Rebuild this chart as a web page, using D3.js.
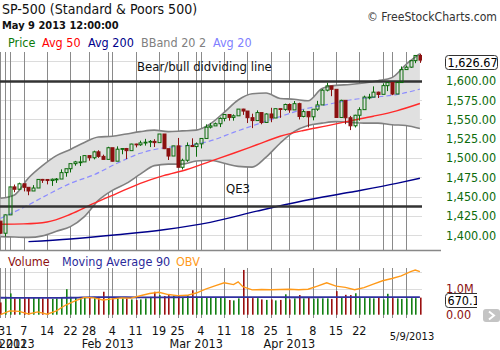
<!DOCTYPE html>
<html><head><meta charset="utf-8">
<script src="https://cdn.jsdelivr.net/npm/d3@7"></script>
<style>
body{margin:0;background:#fff}
svg{display:block}
text{font-family:"DejaVu Sans Condensed","DejaVu Sans",sans-serif}
</style>
</head><body><svg id="c" width="500" height="350"></svg>
<script>
// ---------------- DATA ----------------
const dates = ["2012-12-28","2012-12-31",
"2013-01-02","2013-01-03","2013-01-04","2013-01-07","2013-01-08","2013-01-09","2013-01-10","2013-01-11","2013-01-14","2013-01-15","2013-01-16","2013-01-17","2013-01-18","2013-01-22","2013-01-23","2013-01-24","2013-01-25","2013-01-28","2013-01-29","2013-01-30","2013-01-31",
"2013-02-01","2013-02-04","2013-02-05","2013-02-06","2013-02-07","2013-02-08","2013-02-11","2013-02-12","2013-02-13","2013-02-14","2013-02-15","2013-02-19","2013-02-20","2013-02-21","2013-02-22","2013-02-25","2013-02-26","2013-02-27","2013-02-28",
"2013-03-01","2013-03-04","2013-03-05","2013-03-06","2013-03-07","2013-03-08","2013-03-11","2013-03-12","2013-03-13","2013-03-14","2013-03-15","2013-03-18","2013-03-19","2013-03-20","2013-03-21","2013-03-22","2013-03-25","2013-03-26","2013-03-27","2013-03-28",
"2013-04-01","2013-04-02","2013-04-03","2013-04-04","2013-04-05","2013-04-08","2013-04-09","2013-04-10","2013-04-11","2013-04-12","2013-04-15","2013-04-16","2013-04-17","2013-04-18","2013-04-19","2013-04-22","2013-04-23","2013-04-24","2013-04-25","2013-04-26","2013-04-29","2013-04-30",
"2013-05-01","2013-05-02","2013-05-03","2013-05-06","2013-05-07","2013-05-08","2013-05-09"];

const opens = [1418.10,1402.43,
1426.19,1462.42,1459.37,1466.47,1461.89,1457.15,1461.02,1472.12,1472.05,1470.67,1472.33,1472.63,1480.95,1485.98,1492.56,1494.81,1494.82,1502.96,1500.18,1507.84,1501.96,
1498.11,1513.17,1495.71,1511.29,1512.12,1509.39,1517.93,1517.01,1519.43,1520.33,1521.38,1519.79,1530.94,1511.95,1502.42,1515.60,1487.85,1496.94,1515.99,
1514.68,1518.20,1525.20,1539.79,1541.46,1544.26,1551.15,1556.22,1552.48,1554.52,1563.21,1560.70,1552.10,1548.34,1558.71,1545.90,1556.89,1551.69,1563.75,1562.86,
1569.18,1562.17,1570.25,1553.69,1559.98,1553.26,1563.11,1568.61,1587.73,1593.30,1588.84,1552.36,1574.57,1552.03,1541.61,1555.25,1562.50,1578.78,1578.78,1585.16,1582.34,1593.58,
1597.55,1582.77,1597.60,1614.40,1617.55,1625.95,1632.69];

const highs = [1418.10,1426.74,
1462.43,1465.47,1467.94,1466.47,1461.89,1464.73,1472.30,1472.75,1472.05,1473.31,1473.96,1485.16,1485.98,1492.56,1496.13,1502.27,1503.26,1503.23,1509.35,1509.94,1504.19,
1514.41,1513.17,1514.96,1512.53,1512.90,1518.31,1518.31,1522.29,1524.69,1523.14,1524.24,1530.94,1530.94,1511.95,1515.64,1525.84,1498.99,1520.08,1525.34,
1519.99,1525.27,1543.47,1545.25,1545.78,1552.48,1556.27,1556.77,1556.39,1563.32,1563.62,1560.70,1557.25,1561.56,1558.71,1557.74,1564.91,1563.95,1564.07,1570.28,
1570.57,1573.66,1571.47,1562.60,1559.98,1563.07,1573.89,1589.07,1597.35,1593.30,1588.85,1575.35,1574.57,1554.38,1555.89,1565.55,1580.63,1583.00,1592.64,1585.78,1596.65,1597.57,
1597.55,1598.60,1618.46,1619.77,1626.03,1632.78,1635.01];

const lows = [1401.58,1398.11,
1426.19,1455.53,1458.99,1456.62,1451.64,1457.15,1461.02,1467.58,1465.69,1463.76,1467.60,1472.63,1475.63,1481.16,1489.90,1489.46,1494.82,1496.33,1498.09,1500.11,1497.66,
1498.11,1495.02,1495.71,1504.71,1498.49,1509.39,1513.61,1515.61,1515.93,1514.02,1514.14,1519.79,1511.41,1497.29,1502.42,1487.85,1485.01,1494.88,1514.46,
1501.48,1512.29,1525.20,1538.11,1541.46,1539.94,1547.36,1548.24,1548.25,1554.52,1555.74,1545.13,1538.57,1548.34,1543.55,1545.80,1546.22,1551.69,1551.90,1561.08,
1558.47,1562.17,1549.80,1552.52,1539.50,1548.63,1560.92,1568.61,1586.17,1579.97,1552.28,1552.36,1543.69,1536.03,1539.40,1548.19,1562.50,1575.80,1578.78,1577.56,1582.34,1586.50,
1581.28,1582.77,1597.60,1614.21,1616.64,1622.70,1623.09];

const closes = [1402.43,1426.19,
1462.42,1459.37,1466.47,1461.89,1457.15,1461.02,1472.12,1472.05,1470.68,1472.34,1472.63,1480.94,1485.98,1492.56,1494.81,1494.82,1502.96,1500.18,1507.84,1501.96,1498.11,
1513.17,1495.71,1511.29,1512.12,1509.39,1517.93,1517.01,1519.43,1520.33,1521.38,1519.79,1530.94,1511.95,1502.42,1515.60,1487.85,1496.94,1515.99,1514.68,
1518.20,1525.20,1539.79,1541.46,1544.26,1551.18,1556.22,1552.48,1554.52,1563.23,1560.70,1552.10,1548.34,1558.71,1545.80,1556.89,1551.69,1563.77,1562.85,1569.19,
1562.17,1570.25,1553.69,1559.98,1553.28,1563.07,1568.61,1587.73,1593.37,1588.85,1552.36,1574.57,1552.01,1541.61,1555.25,1562.50,1578.78,1578.79,1585.16,1582.24,1593.61,1597.57,
1582.70,1597.59,1614.42,1617.50,1625.96,1632.69,1626.67];

// volume in thousands
const volumes = [480,700,
835,640,640,640,670,680,680,640,640,620,640,680,1000,700,680,680,680,680,700,700,900,
700,660,650,640,640,600,575,600,640,700,900,770,730,770,750,750,700,770,960,
700,700,660,660,660,660,650,575,560,640,1755,650,650,650,600,580,600,560,580,800,
600,640,770,640,660,620,640,640,640,620,925,660,780,770,840,650,650,650,640,660,600,820,
650,640,620,640,650,650,670];

// Bollinger band (20,2) read every 3rd trading day
const bandDays  = [0,3,6,9,12,15,18,21,24,27,30,33,36,39,42,45,48,51,54,57,60,63,66,69,72,75,78,81,84,87,90];
const bandUpper = [1447.7,1452,1474,1490,1503,1511,1520,1527,1528,1531,1534,1536,1534,1535,1536,1544,1559,1575,1583,1584,1577,1576,1574,1590,1594,1595,1597,1600,1604,1621,1635];
const bandLower = [1398,1397.5,1397,1399,1405,1411,1424,1445,1458,1467,1479,1490,1492,1492,1496,1497,1493,1489,1488,1501,1519,1534,1542,1545,1547,1546,1545,1545,1543,1542,1538];

// moving averages read every 5th trading day
const maDays = [0,5,10,15,20,25,30,35,40,45,50,55,60,65,70,75,80,85,90];
const avg20  = [1421.7,1436,1452,1467,1478,1493,1506,1513,1516,1522,1533,1543.5,1553.5,1563,1569,1575,1578.5,1582,1589];
const avg50  = [1414,1414.5,1417,1427,1441,1454,1467,1477,1485,1495.5,1506,1517,1528,1535.5,1541.5,1548,1554,1561,1570.5];
const avg200Days = [6,15,25,35,45,55,65,75,85,90];
const avg200 = [1391.5,1395,1400.5,1407,1416.5,1431,1444.5,1455.5,1467,1473.6];

const volMA90 = [665,660,662,664,690,688,680,682,686,690,690,688,686,684,686,690,688,690,688];
const obvDays = [0,2,4,6,8,10,12,14,16,18,20,22,24,26,28,30,32,34,36,38,40,42,44,46,48,50,51,52,54,56,58,60,62,64,66,68,70,72,74,76,78,80,82,84,86,88,89,90];
const obv     = [0,150,130,30,110,20,150,380,540,680,660,576,620,660,650,745,830,880,790,750,760,850,1000,1130,1250,1180,1290,1098,975,990,980,990,1000,980,1000,1120,1250,1120,1070,980,1060,1200,1330,1420,1520,1690,1750,1686];

const priceGridTicks = [1400,1425,1450,1475,1500,1525,1550,1575,1600,1625];
const priceLabelTicks = [1400,1425,1450,1475,1500,1525,1550,1575,1600];
const weekTickDates = ["2012-12-31","2013-01-07","2013-01-14","2013-01-22","2013-01-28","2013-02-04","2013-02-11","2013-02-19","2013-02-25","2013-03-04","2013-03-11","2013-03-18","2013-03-25","2013-04-01","2013-04-08","2013-04-15","2013-04-22","2013-04-29","2013-05-06"];
const weekTickLabels = ["31","7","14","22","28","4","11","19","25","4","11","18","25","1","8","15","22","",""];
const monthDates = ["2012-12-28","2013-01-02","2013-02-01","2013-03-01","2013-04-01","2013-05-01"];
const monthLabels = ["Dec 2012","Jan 2013","Feb 2013","Mar 2013","Apr 2013",""];

const bearBullLevel = 1600, qe3Level = 1438;
const lastPrice = "1,626.67", lastVolume = "670.1";

// ---------------- CHART ----------------
const svg = d3.select("#c");
svg.append("rect").attr("width",500).attr("height",350).attr("fill","#fff");

const x = d3.scalePoint().domain(dates).range([0.5, 419.9]);
const y = d3.scaleLinear().domain([1400,1600]).range([235.1, 80.7]);
const vy = d3.scaleLinear().domain([0,1000]).range([314.7, 289.2]);
const plotRight = 422;

const defs = svg.append("defs");
defs.append("clipPath").attr("id","cp").append("rect").attr("x",0).attr("y",52).attr("width",plotRight).attr("height",198);
defs.append("clipPath").attr("id","cv").append("rect").attr("x",0).attr("y",266).attr("width",plotRight).attr("height",52);

const gP = svg.append("g").attr("clip-path","url(#cp)");
const gV = svg.append("g").attr("clip-path","url(#cv)");

// horizontal grid (price)
gP.selectAll("line.hg").data(priceGridTicks).join("line")
  .attr("x1",0).attr("x2",plotRight)
  .attr("y1",d=>Math.round(y(d))+0.5).attr("y2",d=>Math.round(y(d))+0.5)
  .attr("stroke","#dcdcdc").attr("stroke-width",1);

// vertical grid lines
const gridDates = Array.from(new Set(weekTickDates.concat(monthDates)));
const xl = d=>Math.round(x(d))+0.5;
gP.selectAll("line.vg").data(gridDates).join("line")
  .attr("x1",xl).attr("x2",xl).attr("y1",52).attr("y2",250)
  .attr("stroke","#8a8a8a").attr("stroke-width",1);

// Bollinger band
const band = bandDays.map((d,i)=>({d:dates[d],u:bandUpper[i],l:bandLower[i]}));
gP.append("path").datum(band)
  .attr("d",d3.area().x(d=>x(d.d)).y0(d=>y(d.l)).y1(d=>y(d.u)).curve(d3.curveMonotoneX))
  .attr("fill","#e0e0e0");
["u","l"].forEach(k=>{
  gP.append("path").datum(band)
    .attr("d",d3.line().x(d=>x(d.d)).y(d=>y(d[k])).curve(d3.curveMonotoneX))
    .attr("fill","none").attr("stroke","#808080").attr("stroke-width",1.6);
});

function maLine(days, vals, color, width, dash){
  const pts = days.map((d,i)=>({d:dates[d],v:vals[i]}));
  gP.append("path").datum(pts)
    .attr("d",d3.line().x(p=>x(p.d)).y(p=>y(p.v)).curve(d3.curveMonotoneX))
    .attr("fill","none").attr("stroke",color).attr("stroke-width",width)
    .attr("stroke-dasharray",dash||null);
}
maLine(maDays, avg20, "#8c8cff", 1.2, "5,3");
maLine(maDays, avg50, "#ff2a2a", 1.4);
maLine(avg200Days, avg200, "#00008b", 1.4);

// annotation lines
[bearBullLevel, qe3Level].forEach(v=>{
  gP.append("line").attr("x1",0).attr("x2",plotRight)
    .attr("y1",Math.round(y(v))+0.5).attr("y2",Math.round(y(v))+0.5)
    .attr("stroke","#333").attr("stroke-width",2.4);
});

// candles
const green = "#0a6a0a", red = "#8b1010";
const candles = dates.map((d,i)=>({d,o:opens[i],h:highs[i],l:lows[i],c:closes[i],v:volumes[i]}));
const cg = gP.append("g");
candles.forEach(k=>{
  const cx = Math.round(x(k.d))+0.5;
  const up = k.c >= k.o;
  const col = up ? green : red;
  const top = y(Math.max(k.o,k.c)), bot = y(Math.min(k.o,k.c));
  cg.append("line").attr("x1",cx).attr("x2",cx).attr("y1",y(k.h)).attr("y2",top).attr("stroke",col);
  cg.append("line").attr("x1",cx).attr("x2",cx).attr("y1",bot).attr("y2",y(k.l)).attr("stroke",col);
  cg.append("rect").attr("x",cx-1.5).attr("width",3)
    .attr("y",top).attr("height",Math.max(0.8,bot-top))
    .attr("fill",up?"none":col).attr("stroke",col).attr("stroke-width",1);
});

// annotation texts
svg.append("text").attr("x",137).attr("y",71).attr("font-size",13).attr("fill","#111").text("Bear/bull didviding line");
svg.append("text").attr("x",226).attr("y",193).attr("font-size",13).attr("fill","#111").text("QE3");

// price axis line
svg.append("line").attr("x1",0).attr("x2",441).attr("y1",250.5).attr("y2",250.5).attr("stroke","#888").attr("stroke-width",1.5);

// right labels
svg.selectAll("text.pl").data(priceLabelTicks).join("text")
  .attr("x",446).attr("y",d=>y(d)+4.5).attr("font-size",12.5).attr("fill","#0b6b0b")
  .text(d=>d3.format(",.2f")(d));
svg.append("rect").attr("x",445.5).attr("y",55.5).attr("width",52).attr("height",14).attr("rx",3)
  .attr("fill","#fff").attr("stroke","#333");
svg.append("text").attr("x",447.5).attr("y",67).attr("font-size",12.5).attr("fill","#000").text(lastPrice);

// header
svg.append("text").attr("x",2).attr("y",14).attr("font-size",14).attr("fill","#111").text("SP-500 (Standard & Poors 500)");
svg.append("text").attr("x",2).attr("y",29).attr("font-size",11).attr("font-weight","bold").attr("fill","#111").text("May 9 2013 12:00:00");
const legend = [["Price","#0a7a0a",8],["Avg 50","#ff0000",42],["Avg 200","#00008b",88],["BBand 20 2","#808080",141],["Avg 20","#8080ff",213]];
legend.forEach(l=>svg.append("text").attr("x",l[2]).attr("y",47).attr("font-size",12.5).attr("fill",l[1]).text(l[0]));
svg.append("text").attr("x",367).attr("y",21).attr("font-size",12.5).attr("fill","#333")
  .attr("textLength",130).attr("lengthAdjust","spacingAndGlyphs").text("\u00a9 FreeStockCharts.com");

// ---------------- VOLUME PANEL ----------------
gV.selectAll("line.vh").data([272, vy(1000)]).join("line")
  .attr("x1",0).attr("x2",plotRight).attr("y1",d=>Math.round(d)+0.5).attr("y2",d=>Math.round(d)+0.5)
  .attr("stroke","#dcdcdc");
gV.selectAll("line.vv").data(gridDates).join("line")
  .attr("x1",xl).attr("x2",xl).attr("y1",268).attr("y2",318)
  .attr("stroke","#8a8a8a");
gV.selectAll("rect.vb").data(candles).join("rect")
  .attr("x",d=>Math.round(x(d.d))).attr("width",1.6)
  .attr("y",d=>vy(d.v)).attr("height",d=>vy(0)-vy(d.v))
  .attr("fill",d=>d.c>=d.o?"#138013":"#9a0f0f");
const maPts = maDays.map((d,i)=>({d:dates[d],v:volMA90[i]}));
gV.append("path").datum(maPts).attr("d",d3.line().x(p=>x(p.d)).y(p=>vy(p.v)).curve(d3.curveMonotoneX))
  .attr("fill","none").attr("stroke","#3030a0").attr("stroke-width",1.8);
const obvPts = obvDays.map((d,i)=>({d:dates[d],v:obv[i]}));
gV.append("path").datum(obvPts).attr("d",d3.line().x(p=>x(p.d)).y(p=>vy(p.v)))
  .attr("fill","none").attr("stroke","#ff9a1a").attr("stroke-width",1.4);

const vlegend = [["Volume","#8b1010",8],["Moving Average 90","#2a2a9a",62],["OBV","#ff9a1a",176]];
vlegend.forEach(l=>svg.append("text").attr("x",l[2]).attr("y",266).attr("font-size",12.5).attr("fill",l[1]).text(l[0]));

svg.append("text").attr("x",446).attr("y",vy(1000)+4).attr("font-size",12.5).attr("fill","#8b1010").text("1.0M");
svg.append("text").attr("x",446).attr("y",vy(0)+4).attr("font-size",12.5).attr("fill","#8b1010").text("0.00");
const vbox = svg.append("g");
defs.append("clipPath").attr("id","cb").append("rect").attr("x",440).attr("y",285).attr("width",37).attr("height",30);
vbox.attr("clip-path","url(#cb)");
vbox.append("rect").attr("x",445.5).attr("y",293.5).attr("width",50).attr("height",14).attr("rx",3).attr("fill","#fff").attr("stroke","#333");
vbox.append("text").attr("x",447.5).attr("y",305).attr("font-size",12.5).attr("fill","#000").text(lastVolume);

// scroll button
svg.append("rect").attr("x",483).attr("y",309).attr("width",17).attr("height",13).attr("rx",3).attr("fill","#c4c4c4");
svg.append("path").attr("d","M489,311.5 L494,315.5 L489,319.5").attr("fill","none").attr("stroke","#fff").attr("stroke-width",2);

// x axis labels
svg.selectAll("text.wk").data(weekTickDates).join("text")
  .attr("x",d=>x(d)).attr("y",335).attr("text-anchor","middle").attr("font-size",12.5).attr("fill","#111")
  .text((d,i)=>weekTickLabels[i]);
svg.selectAll("text.mo").data(monthDates).join("text")
  .attr("x",d=>x(d)).attr("y",348).attr("text-anchor","middle").attr("font-size",12.5).attr("fill","#111")
  .text((d,i)=>monthLabels[i]);
svg.append("text").attr("x",412).attr("y",340).attr("text-anchor","middle").attr("font-size",11).attr("fill","#111").text("5/9/2013");
</script>
</body></html>
